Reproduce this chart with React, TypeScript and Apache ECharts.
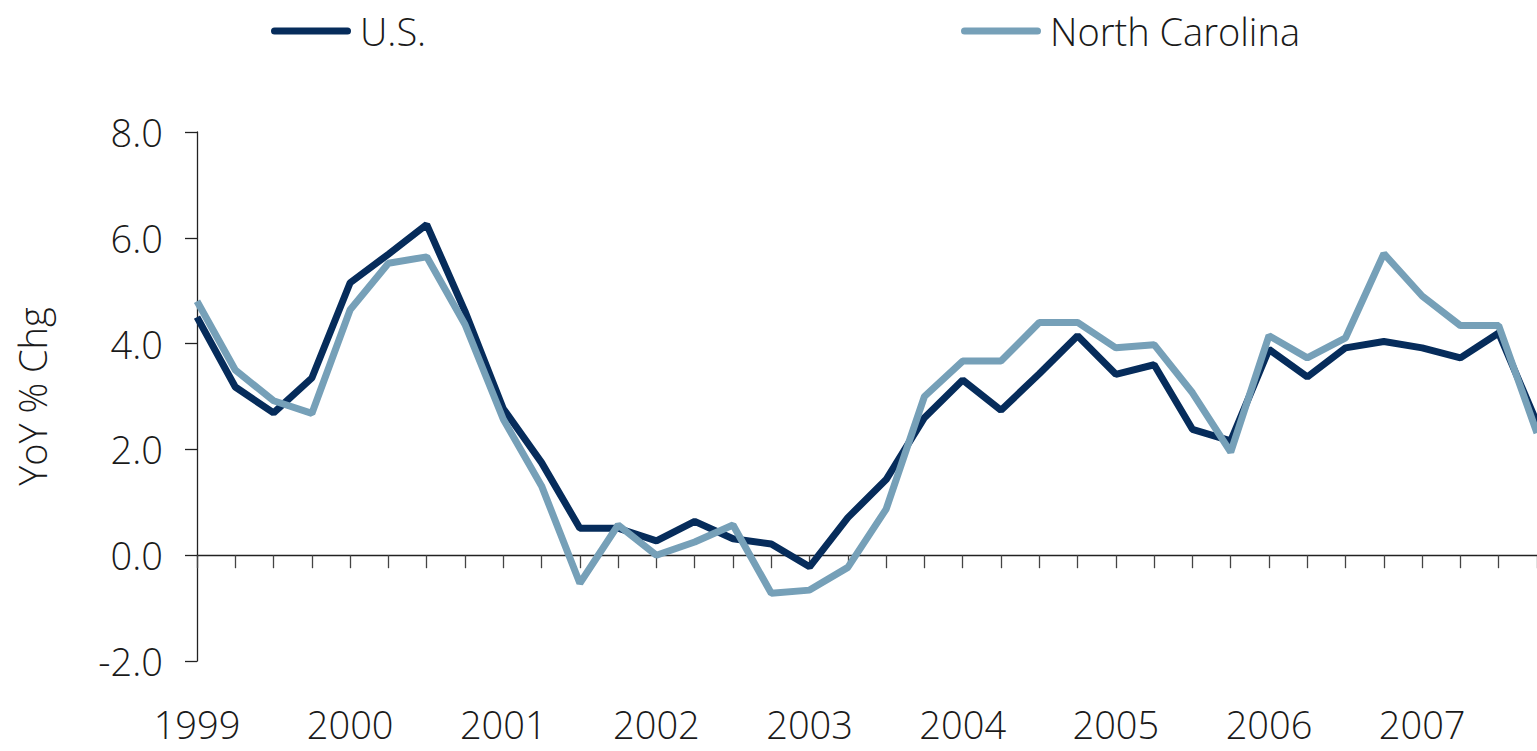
import React, { useEffect, useRef } from "react";
import * as echarts from "echarts";

const quarters: string[] = [];
const years = ["1999", "2000", "2001", "2002", "2003", "2004", "2005", "2006", "2007"];
for (const y of years) for (let q = 1; q <= 4; q++) quarters.push(`${y} Q${q}`);

const usValues = [
  4.5, 3.18, 2.69, 3.35, 5.15, 5.69, 6.25, 4.61, 2.77, 1.75, 0.51, 0.51,
  0.27, 0.64, 0.31, 0.21, -0.22, 0.71, 1.43, 2.6, 3.31, 2.74, 3.43, 4.15,
  3.42, 3.6, 2.38, 2.16, 3.89, 3.37, 3.92, 4.04, 3.92, 3.73, 4.2, 2.5,
];
const ncValues = [
  4.8, 3.5, 2.92, 2.68, 4.64, 5.52, 5.64, 4.36, 2.57, 1.31, -0.53, 0.57,
  0.0, 0.25, 0.57, -0.72, -0.66, -0.23, 0.87, 3.0, 3.67, 3.67, 4.4, 4.4,
  3.92, 3.98, 3.07, 1.95, 4.15, 3.73, 4.11, 5.7, 4.9, 4.34, 4.34, 2.31,
];

const seriesNames = ["U.S.", "North Carolina"];
const seriesColors = ["#062c5b", "#76a0b8"];

const FONT = "'Segoe UI', 'Open Sans', 'Noto Sans', sans-serif";
const capsule = "path://M3.5,0 L76.5,0 A3.5,3.5 0 0 1 76.5,7 L3.5,7 A3.5,3.5 0 0 1 3.5,0 Z";

export default function App() {
  const ref = useRef<HTMLDivElement>(null);
  useEffect(() => {
    document.body.style.margin = "0";
    const chart = echarts.init(ref.current!, undefined, { renderer: "svg" });
    const legendBase = {
      icon: capsule,
      itemWidth: 80,
      itemHeight: 7,
      top: 7,
      textStyle: { fontFamily: FONT, fontSize: 38, fontWeight: 300, color: "#1a1a1a", padding: [0, 0, 0, 4] },
    };
    chart.setOption({
      animation: false,
      legend: [
        { ...legendBase, data: [seriesNames[0]], left: 266 },
        { ...legendBase, data: [seriesNames[1]], left: 956 },
      ],
      grid: { left: 197, right: 0, top: 132, bottom: 90, containLabel: false },
      xAxis: [
        {
          type: "category",
          data: quarters,
          boundaryGap: false,
          axisLine: { onZero: true, lineStyle: { color: "#222", width: 1.3 } },
          axisTick: { show: true, interval: 0, length: 13, lineStyle: { color: "#444", width: 1.3 } },
          axisLabel: { show: false },
          splitLine: { show: false },
        },
        {
          type: "category",
          data: quarters,
          boundaryGap: false,
          position: "bottom",
          axisLine: { show: false, onZero: false },
          axisTick: { show: false },
          axisLabel: {
            show: true,
            interval: 3,
            margin: 44,
            lineHeight: 38,
            fontFamily: FONT,
            fontSize: 38,
            fontWeight: 300,
            color: "#1a1a1a",
            formatter: (v: string) => v.slice(0, 4),
          },
          splitLine: { show: false },
        },
      ],
      yAxis: {
        type: "value",
        min: -2,
        max: 8,
        interval: 2,
        name: "YoY % Chg",
        nameLocation: "middle",
        nameGap: 146,
        nameTextStyle: { fontFamily: FONT, fontSize: 38, fontWeight: 300, color: "#1a1a1a" },
        axisLine: { show: true, lineStyle: { color: "#222", width: 1.3 } },
        axisTick: { show: true, length: 12, lineStyle: { color: "#222", width: 1.3 } },
        axisLabel: {
          margin: 34,
          fontFamily: FONT,
          fontSize: 38,
          fontWeight: 300,
          color: "#1a1a1a",
          formatter: (v: number) => v.toFixed(1),
        },
        splitLine: { show: false },
      },
      series: [
        {
          name: seriesNames[0],
          type: "line",
          data: usValues,
          symbol: "none",
          xAxisIndex: 0,
          lineStyle: { color: seriesColors[0], width: 7 },
          itemStyle: { color: seriesColors[0] },
        },
        {
          name: seriesNames[1],
          type: "line",
          data: ncValues,
          symbol: "none",
          xAxisIndex: 0,
          lineStyle: { color: seriesColors[1], width: 7 },
          itemStyle: { color: seriesColors[1] },
        },
      ],
    });
    return () => chart.dispose();
  }, []);
  return <div ref={ref} style={{ width: 1537, height: 751 }} />;
}
